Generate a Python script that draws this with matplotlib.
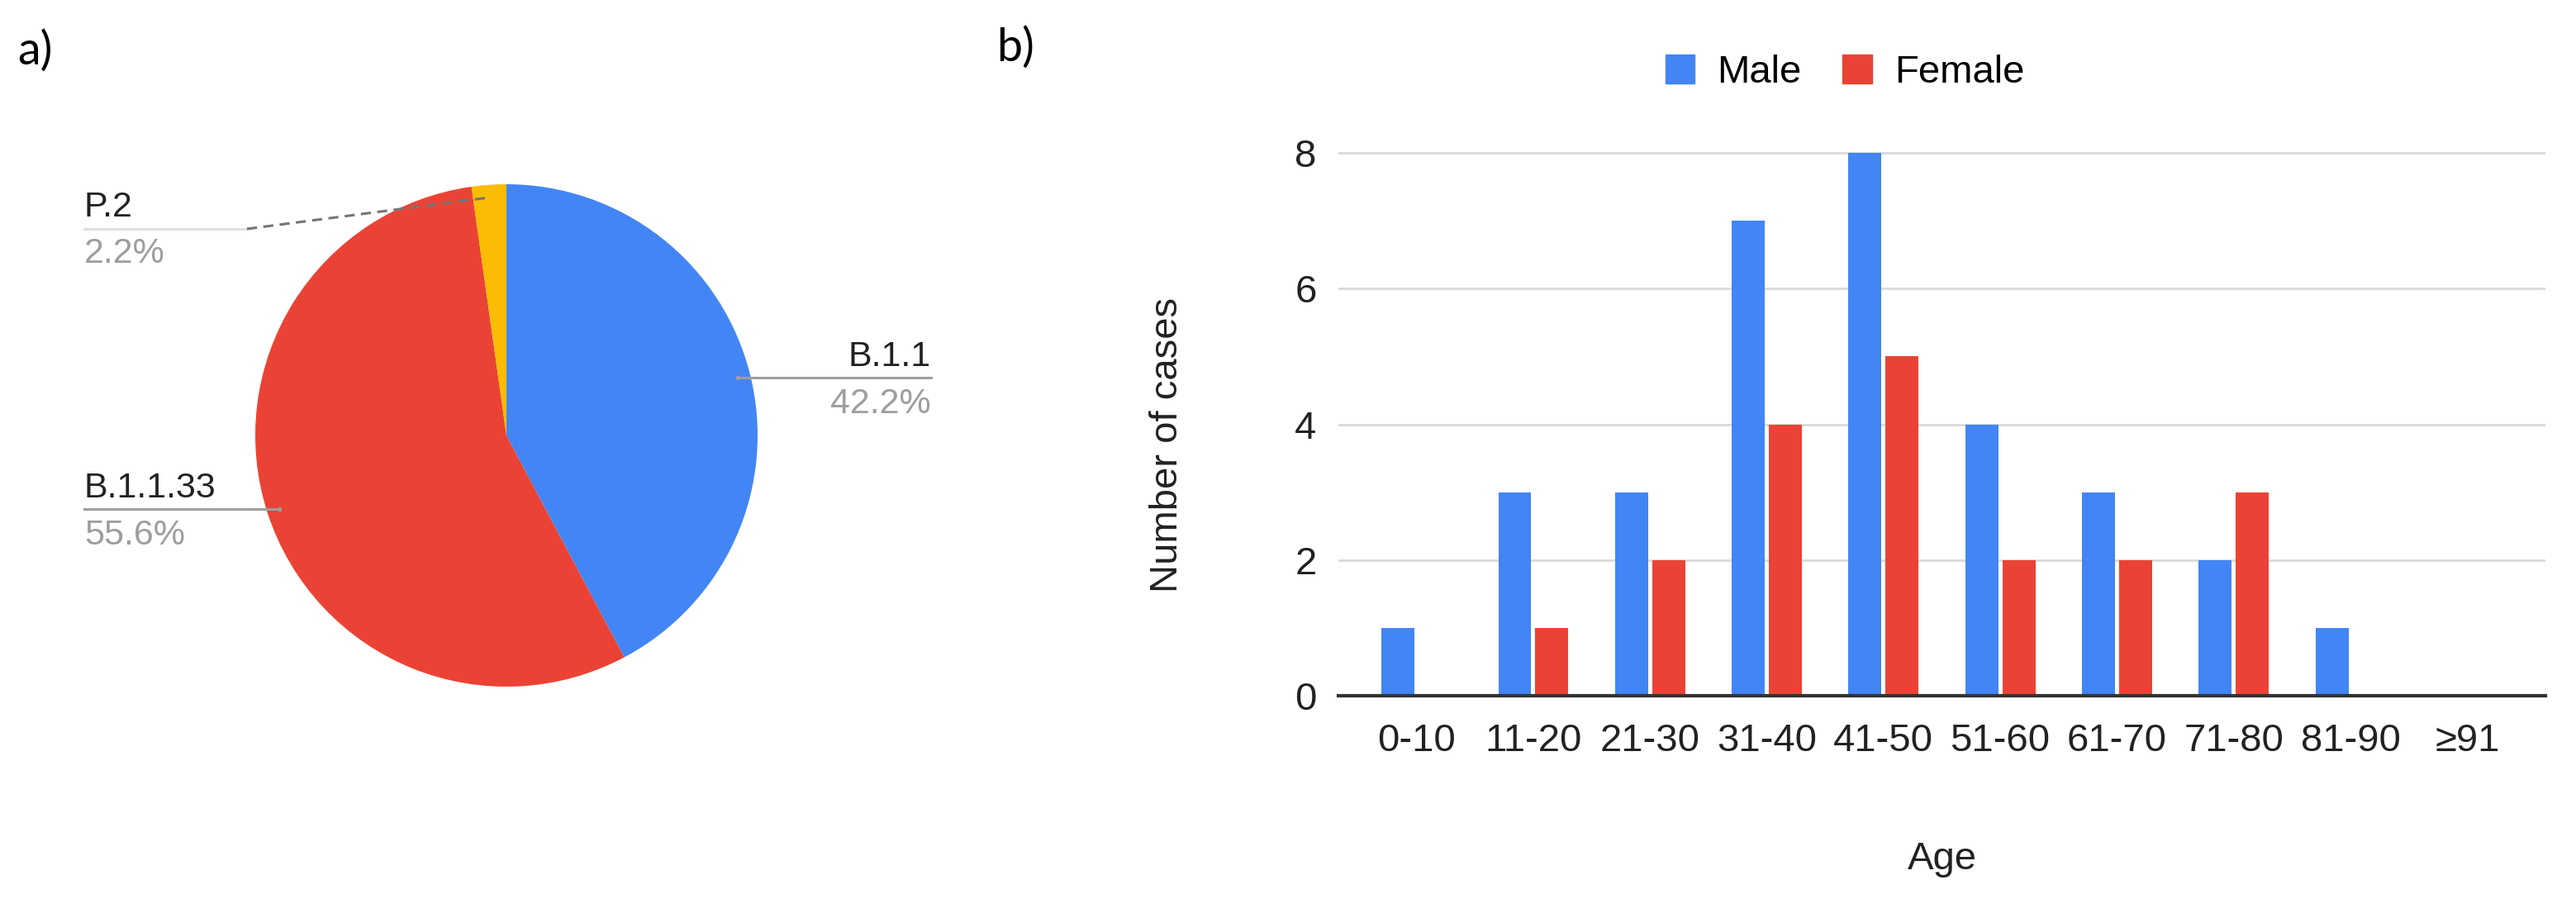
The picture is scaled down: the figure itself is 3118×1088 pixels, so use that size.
import numpy as np
import matplotlib
matplotlib.use("Agg")
import matplotlib.pyplot as plt
from matplotlib.patches import Patch

# ---- data ----
lineages = ["B.1.1", "B.1.1.33", "P.2"]
lineage_counts = [19, 25, 1]
lineage_colors = ["#4285F4", "#EA4335", "#FBBC04"]

age_groups = ["0-10", "11-20", "21-30", "31-40", "41-50", "51-60",
              "61-70", "71-80", "81-90", "\u226591"]
male = [1, 3, 3, 7, 8, 4, 3, 2, 1, 0]
female = [0, 1, 2, 4, 5, 2, 2, 3, 0, 0]

W, H = 3118, 1088
plt.rcParams["font.family"] = ["Liberation Sans", "DejaVu Sans"]
fig = plt.figure(figsize=(W / 100, H / 100), dpi=100)

# ---- a) pie, drawn on a full-figure axes in pixel units ----
axp = fig.add_axes([0, 0, 1, 1])
cx, cy, R = 613, H - 527, 304
wedges, _ = axp.pie(lineage_counts, colors=lineage_colors, startangle=90,
                    counterclock=False, center=(cx, cy), radius=R,
                    wedgeprops=dict(linewidth=0))
axp.set_xlim(0, W)
axp.set_ylim(0, H)
axp.set_aspect("auto")
axp.axis("off")

total = sum(lineage_counts)
pcts = [100 * v / total for v in lineage_counts]
label_fs = 31
name_col, pct_col = "#222222", "#9e9e9e"

def anchor(w):
    a = np.deg2rad((w.theta1 + w.theta2) / 2)
    return cx + 0.95 * R * np.cos(a), cy + 0.95 * R * np.sin(a)

# B.1.1 (right side)
ax_, ay_ = anchor(wedges[0])
axp.plot([ax_, 1127], [ay_, ay_], color="#9e9e9e", lw=2.2)
axp.plot(ax_, ay_, "o", color="#9e9e9e", ms=3)
axp.text(1127, ay_ + 14, lineages[0], ha="right", va="baseline", fontsize=label_fs, color=name_col)
axp.text(1127, ay_ - 43, f"{pcts[0]:.1f}%", ha="right", va="baseline", fontsize=label_fs, color=pct_col)

# B.1.1.33 (left side)
ax_, ay_ = anchor(wedges[1])
axp.plot([102, ax_], [ay_, ay_], color="#9e9e9e", lw=2.2)
axp.plot(ax_, ay_, "o", color="#9e9e9e", ms=3)
axp.text(102, ay_ + 14, lineages[1], ha="left", va="baseline", fontsize=label_fs, color=name_col)
axp.text(102, ay_ - 43, f"{pcts[1]:.1f}%", ha="left", va="baseline", fontsize=label_fs, color=pct_col)

# P.2 (top left, with dashed leader)
ax_, ay_ = anchor(wedges[2])
ly = H - 277
axp.plot([102, 299], [ly, ly], color="#e0e0e0", lw=2.2)
axp.plot([299, ax_], [ly, ay_], color="#757575", lw=2.2, ls=(0, (4, 2.5)))
axp.text(102, ly + 15, lineages[2], ha="left", va="baseline", fontsize=label_fs, color=name_col)
axp.text(102, ly - 41, f"{pcts[2]:.1f}%", ha="left", va="baseline", fontsize=label_fs, color=pct_col)

# panel letters
fig.text(21 / W, 1 - 62 / H, "a)", fontsize=40, family=["Lato", "DejaVu Sans"], va="center", ha="left")
fig.text(1206 / W, 1 - 58 / H, "b)", fontsize=40, family=["Lato", "DejaVu Sans"], va="center", ha="left")

# ---- b) grouped bars ----
left, right, bottom, top = 1620, 3081, 842, 181
axb = fig.add_axes([left / W, 1 - bottom / H, (right - left) / W, (bottom - top) / H])
x = np.arange(len(age_groups))
bw, off = 0.283, 0.159
axb.bar(x - off, male, width=bw, color="#4285F4", label="Male", zorder=3)
axb.bar(x + off, female, width=bw, color="#EA4335", label="Female", zorder=3)
axb.set_xlim(-0.67, 9.67)
axb.set_ylim(0, 8.05)
axb.set_yticks([0, 2, 4, 6, 8])
axb.set_xticks(x)
axb.set_xticklabels(age_groups)
axb.yaxis.grid(True, color="#d9d9d9", lw=2, zorder=0)
for s in ["top", "right", "left"]:
    axb.spines[s].set_visible(False)
axb.spines["bottom"].set_color("#333333")
axb.spines["bottom"].set_linewidth(3)
axb.spines["bottom"].set_zorder(4)
axb.tick_params(axis="both", length=0, labelsize=34, colors="#222222")
axb.tick_params(axis="y", pad=19)
axb.tick_params(axis="x", pad=24)

axb.set_ylabel("Number of cases", fontsize=34, color="#222222")
axb.yaxis.set_label_coords((1413 - left) / (right - left), (bottom - 538) / (bottom - top))
axb.yaxis.label.set_va("center")
axb.set_xlabel("Age", fontsize=34, color="#222222")
axb.xaxis.set_label_coords(0.5, (bottom - 1040) / (bottom - top))
axb.xaxis.label.set_va("center")

handles = [Patch(color="#4285F4", label="Male"), Patch(color="#EA4335", label="Female")]
fig.legend(handles=handles, loc="center", bbox_to_anchor=(2233 / W, 1 - 88 / H), ncol=2,
           frameon=False, fontsize=34, handlelength=0.76, handleheight=0.76,
           handletextpad=0.57, columnspacing=1.05)

fig.savefig("out.png", dpi=100, facecolor="white")
